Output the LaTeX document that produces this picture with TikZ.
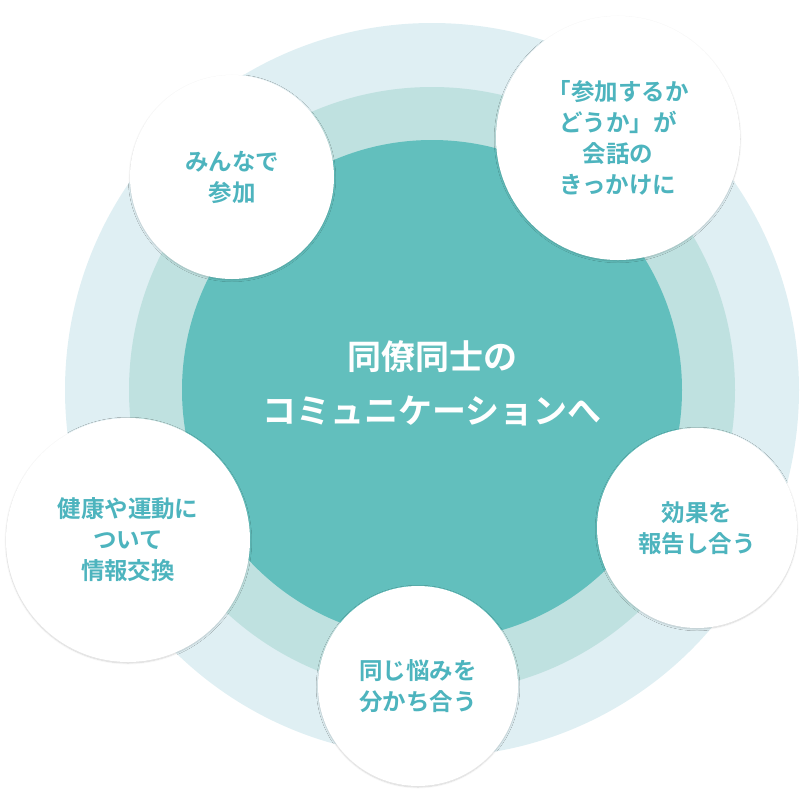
\documentclass[tikz,border=0pt]{standalone}
\usepackage{fontspec}
\newfontfamily\jp{Noto Sans CJK JP Bold}
\usetikzlibrary{shadows.blur}
\definecolor{inner}{HTML}{62BFBD}
\definecolor{mid}{HTML}{BFE1E0}
\definecolor{outer}{HTML}{DFEFF3}
\definecolor{txt}{HTML}{4DB4BE}
\tikzset{bub/.style={circle,fill=white,inner sep=0pt,blur shadow={shadow blur steps=8,shadow xshift=0pt,shadow yshift=-1pt,shadow opacity=18},align=center,text=txt,font=\jp\fontsize{23.5}{31}\selectfont}}
\begin{document}
\begin{tikzpicture}[x=1pt,y=-1pt]
\useasboundingbox (0,0) rectangle (800,807);
\fill[outer] (432,390) circle (367);
\fill[mid] (432,390) circle (303);
\fill[inner] (432,390) circle (250);
\node[text=white,align=center,font=\jp\fontsize{34}{54}\selectfont] (c) at (432,383) {同僚同士の\\コミュニケーションへ};
\node[bub,minimum size=204] (a) at (232,177) {みんなで\\参加};
\node[bub,minimum size=244] (b) at (618,138) {「参加するか\\どうか」が\\会話の\\きっかけに};
\node[bub,minimum size=200] (d) at (697,528) {効果を\\報告し合う};
\node[bub,minimum size=200] (e) at (418,686) {同じ悩みを\\分かち合う};
\node[bub,minimum size=244] (f) at (128,540) {健康や運動に\\ついて\\情報交換};
\end{tikzpicture}
\end{document}
